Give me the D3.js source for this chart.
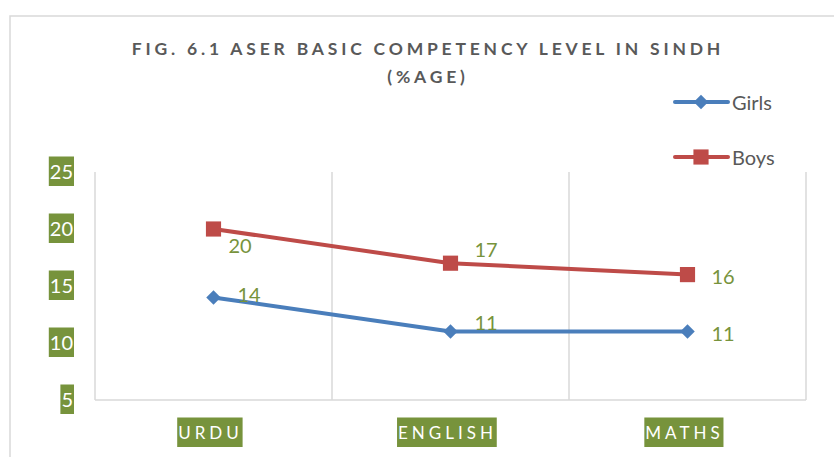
<!DOCTYPE html>
<html>
<head>
<meta charset="utf-8">
<script src="https://cdn.jsdelivr.net/npm/d3@7"></script>
<style>
  body { margin: 0; background: #fff; }
  svg { display: block; font-family: Lato, "Open Sans", sans-serif; }
</style>
</head>
<body>
<svg id="chart" width="834" height="457"></svg>
<script>
// data
var categories = ["URDU", "ENGLISH", "MATHS"];
var girls = [14, 11, 11];
var boys = [20, 17, 16];
var yTicks = [5, 10, 15, 20, 25];
var seriesNames = ["Girls", "Boys"];

var green = "#77933c", grey = "#595959";
var svg = d3.select("#chart");

// outer frame
svg.append("rect")
  .attr("x", 10).attr("y", 16).attr("width", 840).attr("height", 460)
  .style("fill", "none").style("stroke", "#d9d9d9").style("stroke-width", 1.5);

var plot = { left: 95, right: 806, top: 172, bottom: 400 };

var x = d3.scaleBand().domain(categories).range([plot.left, plot.right]);
var y = d3.scaleLinear().domain([5, 25]).range([plot.bottom, plot.top]);

/*************************** title ***************************/
var title = svg.append("text")
  .attr("text-anchor", "middle")
  .style("font-size", "17.5px").style("font-weight", "bold")
  .style("letter-spacing", "3.8px").style("fill", grey);
title.append("tspan").attr("x", 428).attr("y", 55).text("FIG. 6.1 ASER BASIC COMPETENCY LEVEL IN SINDH");
title.append("tspan").attr("x", 428).attr("y", 83).text("(%AGE)");

/*************************** grid ***************************/
var grid = svg.append("g");
categories.forEach(function(c){
  grid.append("line")
    .attr("x1", x(c)).attr("x2", x(c)).attr("y1", plot.top).attr("y2", plot.bottom)
    .style("stroke", "#d9d9d9").style("stroke-width", 1.5);
});
grid.append("line")
  .attr("x1", plot.right).attr("x2", plot.right).attr("y1", plot.top).attr("y2", plot.bottom)
  .style("stroke", "#d9d9d9").style("stroke-width", 1.5);
grid.append("line")
  .attr("x1", plot.left).attr("x2", plot.right).attr("y1", plot.bottom).attr("y2", plot.bottom)
  .style("stroke", "#d9d9d9").style("stroke-width", 1.5);

// highlighted label helper (green box behind white text)
function boxedText(parent, tx, ty, str, anchor, size, spacing){
  var g = parent.append("g");
  var rect = g.append("rect").style("fill", green);
  var t = g.append("text")
    .attr("x", tx).attr("y", ty)
    .attr("text-anchor", anchor).attr("dominant-baseline", "central")
    .style("font-size", size + "px").style("letter-spacing", spacing + "px")
    .style("fill", "#fff").text(str);
  var bb = t.node().getBBox();
  rect.attr("x", bb.x - 1).attr("y", ty - 14.5).attr("width", bb.width + 2 - spacing * 0.3).attr("height", 29.5);
  return g;
}

/*************************** axes ***************************/
var yAxis = svg.append("g");
yTicks.forEach(function(v){
  boxedText(yAxis, 73, y(v) - 1, v, "end", 20, 0);
});

var xAxis = svg.append("g");
categories.forEach(function(c){
  boxedText(xAxis, x(c) + x.bandwidth() / 2 - 3, 432, c, "middle", 17, 4);
});

/*************************** series ***************************/
var series = [
  { name: "Girls", values: girls, color: "#4a7ebb", marker: d3.symbolSquare, size: 105, rot: 45 },
  { name: "Boys", values: boys, color: "#be4b48", marker: d3.symbolSquare, size: 230, rot: 0 }
];

var line = d3.line()
  .x(function(d, i){ return x(categories[i]) + x.bandwidth() / 2; })
  .y(function(d){ return y(d); });

series.forEach(function(s){
  svg.append("path").datum(s.values)
    .attr("d", line)
    .style("fill", "none").style("stroke", s.color).style("stroke-width", 4)
    .style("stroke-linejoin", "round");
  svg.selectAll(null).data(s.values).enter().append("path")
    .attr("d", d3.symbol().type(s.marker).size(s.size))
    .attr("transform", function(d, i){
      return "translate(" + (x(categories[i]) + x.bandwidth() / 2) + "," + y(d) + ") rotate(" + s.rot + ")";
    })
    .style("fill", s.color);
});

// data labels
var labelOffsets = {
  Girls: [[24, -3], [24, -10], [24, 1]],
  Boys: [[15, 16], [24, -14], [24, 1]]
};
series.forEach(function(s){
  svg.selectAll(null).data(s.values).enter().append("text")
    .attr("x", function(d, i){ return x(categories[i]) + x.bandwidth() / 2 + labelOffsets[s.name][i][0]; })
    .attr("y", function(d, i){ return y(d) + labelOffsets[s.name][i][1]; })
    .attr("dominant-baseline", "central")
    .style("font-size", "20px").style("fill", green)
    .text(function(d){ return d; });
});

/*************************** legend ***************************/
var legend = svg.append("g");
series.forEach(function(s, i){
  var ly = 102 + i * 55;
  legend.append("line")
    .attr("x1", 675).attr("x2", 728).attr("y1", ly).attr("y2", ly)
    .style("stroke", s.color).style("stroke-width", 4).style("stroke-linecap", "round");
  legend.append("path")
    .attr("d", d3.symbol().type(s.marker).size(s.size))
    .attr("transform", "translate(701," + ly + ") rotate(" + s.rot + ")")
    .style("fill", s.color);
  legend.append("text")
    .attr("x", 732).attr("y", ly).attr("dominant-baseline", "central")
    .style("font-size", "20px").style("fill", grey)
    .text(s.name);
});
</script>
</body>
</html>
